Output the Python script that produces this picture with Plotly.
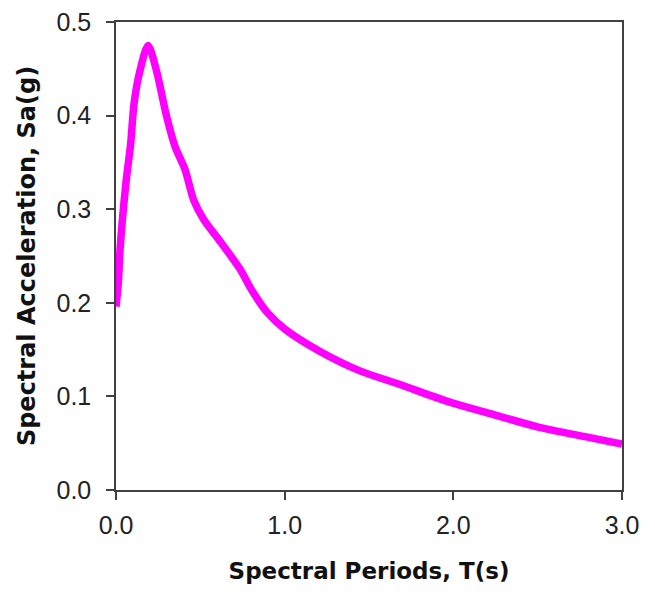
import plotly.graph_objects as go

period_s = [0.0, 0.014, 0.024, 0.06, 0.087, 0.107, 0.142, 0.19, 0.24, 0.295, 0.35, 0.41,
            0.46, 0.52, 0.62, 0.735, 0.81, 0.895, 1.0, 1.21, 1.45, 1.68, 1.96, 2.22,
            2.51, 2.81, 3.0]
sa_g = [0.196, 0.222, 0.257, 0.33, 0.37, 0.413, 0.448, 0.475, 0.448, 0.403, 0.367, 0.342,
        0.31, 0.289, 0.265, 0.236, 0.212, 0.19, 0.172, 0.148, 0.127, 0.113, 0.095, 0.0815,
        0.067, 0.056, 0.049]

x_ticks = [0.0, 1.0, 2.0, 3.0]
x_tick_labels = ["0.0", "1.0", "2.0", "3.0"]
y_ticks = [0.0, 0.1, 0.2, 0.3, 0.4, 0.5]
y_tick_labels = ["0.0", "0.1", "0.2", "0.3", "0.4", "0.5"]

fig = go.Figure()
fig.add_trace(go.Scatter(
    x=period_s, y=sa_g, mode="lines",
    line=dict(color="#FF00FF", width=7.5, shape="spline", smoothing=0.8),
    showlegend=False,
))

axis_common = dict(
    showgrid=False, zeroline=False, showline=True, mirror=True,
    linecolor="#404040", linewidth=1.5,
    ticks="outside", ticklen=8, tickwidth=1.5, tickcolor="#404040",
    tickfont=dict(family="Liberation Sans, Arial, sans-serif", size=25, color="#222222"),
    automargin=False, ticklabeloverflow="allow",
)

title_font = dict(family="DejaVu Sans, sans-serif", color="#111111")

fig.update_layout(
    width=647, height=586,
    margin=dict(l=108, r=33, t=14, b=104),
    paper_bgcolor="white", plot_bgcolor="white",
    font=dict(family="Liberation Sans, Arial, sans-serif"),
    xaxis=dict(
        range=[0, 3], tickvals=x_ticks, ticktext=x_tick_labels,
        title=dict(text="<b>Spectral Periods, T(s)</b>", font=dict(size=23, **title_font), standoff=25),
        ticklabelstandoff=4,
        **axis_common,
    ),
    yaxis=dict(
        range=[0, 0.5], tickvals=y_ticks, ticktext=y_tick_labels,
        title=dict(text="<b>Spectral Acceleration, Sa(g)</b>", font=dict(size=24, **title_font), standoff=14),
        ticklabelstandoff=10,
        **axis_common,
    ),
)

fig.write_html("out.html")
